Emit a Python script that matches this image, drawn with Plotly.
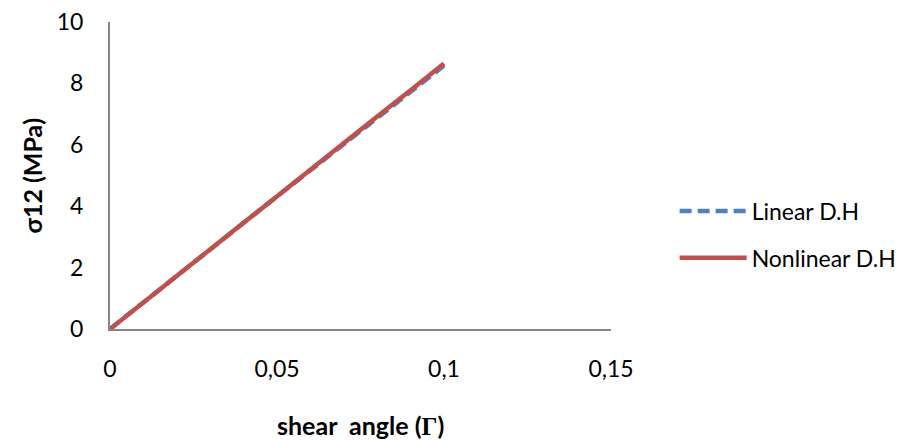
import plotly.graph_objects as go

shear_angle = [0, 0.01, 0.02, 0.03, 0.04, 0.05, 0.06, 0.07, 0.08, 0.09, 0.10]
linear_dh = [0, 0.87, 1.74, 2.60, 3.46, 4.32, 5.17, 6.02, 6.87, 7.72, 8.58]
nonlinear_dh = [0, 0.87, 1.74, 2.61, 3.47, 4.34, 5.20, 6.06, 6.92, 7.78, 8.65]

x_ticks = [0, 0.05, 0.1, 0.15]
x_ticklabels = ["0", "0,05", "0,1", "0,15"]
y_ticks = [0, 2, 4, 6, 8, 10]

FONT = "Lato, 'Open Sans', sans-serif"
FS = 23
TFS = 25

fig = go.Figure()
fig.add_trace(go.Scatter(x=shear_angle, y=linear_dh, mode="lines", name="Linear D.H",
                         legendgroup="a",
                         line=dict(color="#4F81BD", width=4.5, dash="12px,6px")))
fig.add_trace(go.Scatter(x=shear_angle, y=nonlinear_dh, mode="lines", name="Nonlinear D.H",
                         legendgroup="b",
                         line=dict(color="#C0504D", width=4.5)))

# page body adds an 8px offset; margins compensate so the plot area lands where the reference has it
fig.update_layout(
    width=908, height=441,
    margin=dict(l=102, r=305, t=14, b=120),
    paper_bgcolor="white", plot_bgcolor="white",
    font=dict(family=FONT, size=FS, color="#000000"),
    showlegend=True,
    legend=dict(x=1.127, y=0.308, xanchor="left", yanchor="middle",
                font=dict(size=FS), tracegroupgap=14, itemwidth=67,
                bgcolor="rgba(0,0,0,0)"),
    xaxis=dict(range=[0, 0.15], tickvals=x_ticks, ticktext=x_ticklabels,
               showgrid=False, zeroline=False, showline=True,
               linecolor="#868686", linewidth=2, automargin=False,
               ticklabeloverflow="allow",
               ticks="outside", ticklen=18, tickcolor="rgba(0,0,0,0)"),
    yaxis=dict(range=[0, 10], tickvals=y_ticks,
               showgrid=False, zeroline=False, showline=True,
               linecolor="#868686", linewidth=2, automargin=False,
               ticklabeloverflow="allow",
               ticks="outside", ticklen=20, tickcolor="rgba(0,0,0,0)"),
    annotations=[
        dict(text="<b>shear\u00a0 angle (<span style=\"font-family:'Liberation Serif', serif\">Γ</span>)</b>",
             xref="paper", yref="paper", x=0.5, y=-0.3127,
             xanchor="center", yanchor="middle", showarrow=False,
             font=dict(size=TFS)),
        dict(text="<b>σ12 (MPa)</b>", textangle=-90,
             xref="paper", yref="paper", x=-0.1557, y=0.5,
             xanchor="center", yanchor="middle", showarrow=False,
             font=dict(size=TFS)),
    ],
)

fig.write_html("out.html")
